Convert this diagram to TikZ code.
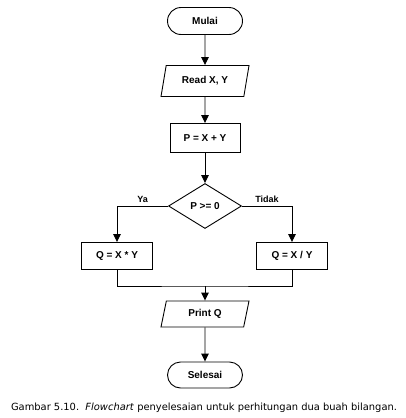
\documentclass[tikz,border=0pt]{standalone}
\usepackage{fontspec}
\setmainfont{Liberation Sans}
\newfontfamily\captionfont{DejaVu Sans}
\usetikzlibrary{arrows.meta, positioning, shapes.geometric, shapes.misc}
\tikzset{
  every picture/.style={x=1pt, y=1pt, line width=0.9pt, font=\fontsize{10}{12}\selectfont\bfseries},
  terminal/.style={draw, rounded rectangle, minimum width=79pt, minimum height=27pt, inner sep=2pt},
  io/.style={draw, trapezium, trapezium left angle=68, trapezium right angle=112, trapezium stretches body=true, minimum width=88pt, minimum height=31pt, inner sep=2pt},
  process/.style={draw, minimum width=70pt, minimum height=29pt, inner sep=2pt},
  decision/.style={draw, diamond, minimum width=73pt, minimum height=45pt, inner sep=0pt},
  arrow/.style={-{Triangle[length=8pt, width=7.5pt]}},
  label/.style={font=\fontsize{9}{11}\selectfont\bfseries},
}

\begin{document}
\begin{tikzpicture}
  \useasboundingbox (0,0) rectangle (406,-418);
  \node[terminal] (mulai) at (205,-21) {Mulai};
  \node[io] (read) at (205,-81) {Read X, Y};
  \node[process] (hitung) at (205,-138) {P = X + Y};
  \node[decision] (cek) at (205,-206) {P >= 0};
  \node[process, minimum width=71pt, minimum height=27pt] (qkali) at (117,-256) {Q = X * Y};
  \node[process, minimum width=71pt, minimum height=27pt] (qbagi) at (292,-256) {Q = X / Y};
  \coordinate (gabung) at (205,-286);
  \node[io, minimum height=26pt] (print) at (205,-314) {Print Q};
  \node[terminal, minimum height=26pt] (selesai) at (205,-375) {Selesai};
  \draw[arrow] (mulai) -- (read);
  \draw[arrow] (read) -- (hitung);
  \draw[arrow] (hitung) -- (cek);
  \draw[arrow] (cek.west) -| node[label, above, pos=0.25] {Ya} (qkali.north);
  \draw[arrow] (cek.east) -| node[label, above, pos=0.25] {Tidak} (qbagi.north);
  \draw (qkali.south) |- (gabung) -| (qbagi.south);
  \draw[arrow] (gabung) -- (print);
  \draw[arrow] (print) -- (selesai);
  \node[font=\captionfont\fontsize{9.9}{12}\selectfont] (caption) at (204,-408)
    {Gambar 5.10.\ \ \textit{Flowchart} penyelesaian untuk perhitungan dua buah bilangan.};
\end{tikzpicture}
\end{document}
